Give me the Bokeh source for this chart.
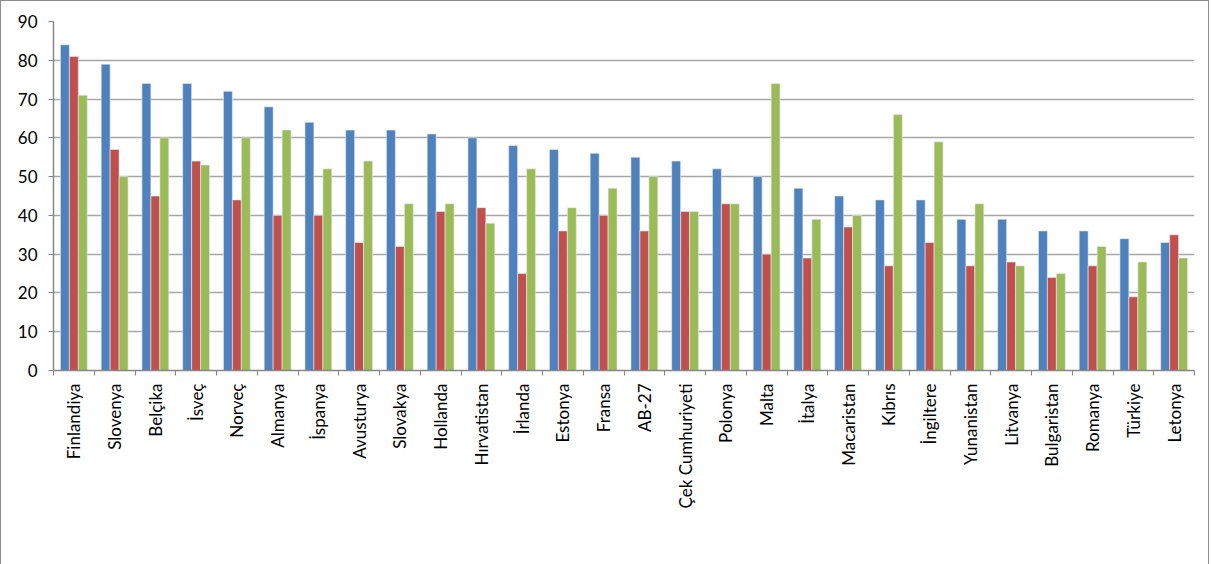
import math
from bokeh.plotting import figure
from bokeh.models import ColumnDataSource, FixedTicker, Legend, LegendItem, Range1d
from bokeh.embed import file_html
from bokeh.resources import INLINE

countries = ["Finlandiya", "Slovenya", "Belçika", "İsveç", "Norveç", "Almanya", "İspanya",
             "Avusturya", "Slovakya", "Hollanda", "Hırvatistan", "İrlanda", "Estonya", "Fransa",
             "AB-27", "Çek Cumhuriyeti", "Polonya", "Malta", "İtalya", "Macaristan", "Kıbrıs",
             "İngiltere", "Yunanistan", "Litvanya", "Bulgaristan", "Romanya", "Türkiye", "Letonya"]
toptan = [84, 79, 74, 74, 72, 68, 64, 62, 62, 61, 60, 58, 57, 56, 55, 54, 52, 50, 47, 45, 44,
          44, 39, 39, 36, 36, 34, 33]
hotel = [81, 57, 45, 54, 44, 40, 40, 33, 32, 41, 42, 25, 36, 40, 36, 41, 43, 30, 29, 37, 27,
         33, 27, 28, 24, 27, 19, 35]
nakliye = [71, 50, 60, 53, 60, 62, 52, 54, 43, 43, 38, 52, 42, 47, 50, 41, 43, 74, 39, 40, 66,
           59, 43, 27, 25, 32, 28, 29]
series_names = ["Toptan ve parekende ticaret",
                "Hotel, kamping ve diğer kısa dönemli konaklama hizmetleri",
                "Nakliye, Depolama ve İletişim"]
colors = ["#4F81BD", "#C0504D", "#9BBB59"]
y_ticks = [0, 10, 20, 30, 40, 50, 60, 70, 80, 90]

n = len(countries)
centers = [i + 0.5 for i in range(n)]
FONT = "Lato"

p = figure(frame_width=1141, frame_height=349,
           output_backend="svg", toolbar_location=None,
           x_range=Range1d(0, n), y_range=Range1d(0, 90),
           min_border_left=52, min_border_right=14, min_border_top=20, min_border_bottom=0)
p.styles = {"border": "1px solid #8c8c8c"}
p.outline_line_color = None
p.background_fill_color = "white"
p.border_fill_color = "white"

bw = 0.22
renderers = []
for k, (vals, col) in enumerate(zip([toptan, hotel, nakliye], colors)):
    src = ColumnDataSource(dict(x=[c + (k - 1) * bw for c in centers], top=vals))
    r = p.vbar(x="x", top="top", width=bw, bottom=0, source=src, fill_color=col,
               line_color="#e8eef6", line_width=0.6)
    renderers.append(r)

p.xaxis.ticker = FixedTicker(ticks=centers, minor_ticks=list(range(n + 1)))
p.xaxis.major_label_overrides = {c: name for c, name in zip(centers, countries)}
p.xaxis.major_label_orientation = math.pi / 2
p.xaxis.major_tick_out = 0
p.xaxis.major_tick_in = 0
p.xaxis.minor_tick_out = 5
p.xaxis.minor_tick_in = 0
p.xaxis.minor_tick_line_color = "#868686"
p.xaxis.axis_line_color = "#868686"
p.xaxis.axis_line_width = 1.5
p.xaxis.major_label_text_font = FONT
p.xaxis.major_label_text_font_size = "17px"
p.xaxis.major_label_text_color = "black"
p.xaxis.major_label_standoff = 8

p.yaxis.ticker = FixedTicker(ticks=y_ticks)
p.yaxis.minor_tick_line_color = None
p.yaxis.major_tick_out = 5
p.yaxis.major_tick_in = 0
p.yaxis.major_tick_line_color = "#868686"
p.yaxis.axis_line_color = "#868686"
p.yaxis.axis_line_width = 1.5
p.yaxis.major_label_text_font = FONT
p.yaxis.major_label_text_font_size = "17px"
p.yaxis.major_label_text_color = "black"
p.yaxis.major_label_standoff = 11

p.xgrid.grid_line_color = None
p.ygrid.ticker = FixedTicker(ticks=y_ticks)
p.ygrid.grid_line_color = "#a6a6a6"
p.ygrid.grid_line_width = 1.5

legend = Legend(items=[LegendItem(label=nm, renderers=[r]) for nm, r in zip(series_names, renderers)],
                orientation="horizontal", location=(51, 225))
legend.label_text_font = FONT
legend.label_text_font_size = "17.5px"
legend.label_text_color = "black"
legend.glyph_width = 11
legend.glyph_height = 11
legend.spacing = 36
legend.label_standoff = 4
legend.border_line_color = None
legend.background_fill_alpha = 0
legend.margin = 0
legend.padding = 0
p.add_layout(legend, "below")

open("out.html", "w").write(file_html(p, INLINE))
